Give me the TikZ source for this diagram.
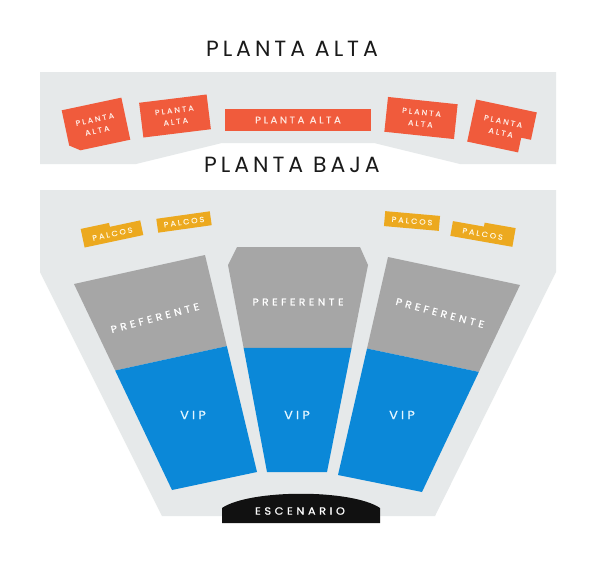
\documentclass[tikz,border=0pt]{standalone}
\usepackage{fontspec}
\usepackage{tikz}
\usetikzlibrary{calc,positioning}
\newfontfamily\titlefont{Poppins}[LetterSpace=18]
\newfontfamily\seatfont{Poppins}[LetterSpace=26,FakeStretch=1.08,FakeBold=0.6]
\newfontfamily\zonafont{Poppins}[LetterSpace=34,FakeStretch=1.08,FakeBold=0.6]
\definecolor{salabg}{HTML}{E6E9EA}
\definecolor{tituloc}{HTML}{1A1A1A}
\definecolor{altac}{HTML}{F05B3C}
\definecolor{altatxt}{HTML}{FFE6DE}
\definecolor{palcoc}{HTML}{ECA91F}
\definecolor{palcotxt}{HTML}{FFF4DA}
\definecolor{grisc}{HTML}{A6A6A6}
\definecolor{vipc}{HTML}{0B88D8}
\definecolor{viptxt}{HTML}{E2F5FF}
\definecolor{escc}{HTML}{111111}
\tikzset{
    %Define style for floor titles
    titulo/.style={
           text=tituloc,
           inner sep=0pt,
           font=\titlefont\fontsize{22}{24}\selectfont},
    %Define style for upper floor labels
    altalbl/.style={
           text=altatxt,
           align=center,
           inner sep=0pt, outer sep=0pt,
           transform shape,
           font=\seatfont\fontsize{7.5}{11.5}\selectfont},
    alta/.style={
           altalbl,
           rectangle,
           fill=altac},
    %Define style for boxes
    palcolbl/.style={
           text=palcotxt,
           inner sep=0pt, outer sep=0pt,
           transform shape,
           font=\seatfont\fontsize{7.5}{9}\selectfont},
    palco/.style={
           palcolbl,
           rectangle,
           fill=palcoc},
    %Define style for seat zone labels
    zona/.style={
           text=white,
           inner sep=0pt,
           font=\zonafont\fontsize{10}{12}\selectfont},
    vip/.style={
           text=viptxt,
           inner sep=0pt,
           font=\seatfont\fontsize{12}{14}\selectfont}
}
\begin{document}
\begin{tikzpicture}[x=1pt,y=-1pt]
\useasboundingbox (0,0) rectangle (600,562);
\fill[white] (0,0) rectangle (600,562);
 %floors
\fill[salabg] (40,72) -- (556,72) -- (556,164) -- (460,164) -- (374,143) -- (222,143) -- (136,164) -- (40,164) -- cycle;
\fill[salabg] (40,190) -- (556,190) -- (556,272) -- (435,516) -- (162,516) -- (40,272) -- cycle;

 %titles
\node[titulo] (alta) at (292,48.5) {PLANTA ALTA};
\node[titulo] (baja) at (292,165) {PLANTA BAJA};

 %upper floor
\begin{scope}[shift={(96,125)}, rotate=12]
\fill[altac] (-30.5,-21.5) -- (30.5,-21.5) -- (30.5,21.5) -- (-20.5,21.5) -- (-30.5,14.5) -- cycle;
\node[altalbl] (alta1) at (0,0) {PLANTA\\ALTA};
\end{scope}
\node[alta, minimum width=68pt, minimum height=35pt, rotate=7] (alta2) at (175,116) {PLANTA\\ALTA};
\node[alta, minimum width=146pt, minimum height=22pt, font=\seatfont\fontsize{9.5}{11}\selectfont] (alta3) at (298,120) {PLANTA ALTA};
\node[alta, minimum width=70pt, minimum height=35pt, rotate=-6] (alta4) at (421,118) {PLANTA\\ALTA};
\begin{scope}[shift={(502,127)}, rotate=-12]
\fill[altac] (-31,-21.5) -- (31,-21.5) -- (31,6.5) -- (21,6.5) -- (21,21.5) -- (-31,21.5) -- cycle;
\node[altalbl] (alta5) at (0,0) {PLANTA\\ALTA};
\end{scope}

 %palcos
\begin{scope}[shift={(112,232)}, rotate=12]
\fill[palcoc] (-30,-9.5) -- (-1,-9.5) -- (-1,-5.5) -- (30,-5.5) -- (30,9.5) -- (-30,9.5) -- cycle;
\node[palcolbl] (palco1) at (0,2) {PALCOS};
\end{scope}
\node[palco, minimum width=54pt, minimum height=14pt, rotate=8] (palco2) at (184,222) {PALCOS};
\node[palco, minimum width=55pt, minimum height=15pt, rotate=-5] (palco3) at (412,221) {PALCOS};
\begin{scope}[shift={(483,232)}, rotate=-10]
\fill[palcoc] (-31.5,-5.5) -- (0,-5.5) -- (0,-9.5) -- (31.5,-9.5) -- (31.5,9.5) -- (-31.5,9.5) -- cycle;
\node[palcolbl] (palco4) at (0,2) {PALCOS};
\end{scope}

 %left zone
\coordinate (la) at (74,284);
\coordinate (lb) at (205,255);
\coordinate (lc) at (257,472);
\coordinate (ld) at (172,490);
\fill[grisc] (la) -- (lb) -- ($(lb)!0.42!(lc)$) -- ($(la)!0.42!(ld)$) -- cycle;
\fill[vipc] ($(la)!0.42!(ld)$) -- ($(lb)!0.42!(lc)$) -- (lc) -- (ld) -- cycle;

 %middle zone
\coordinate (ma) at (228,265);
\coordinate (mb) at (237,247);
\coordinate (mc) at (360,247);
\coordinate (md) at (368,265);
\coordinate (me) at (327,472);
\coordinate (mf) at (267,472);
\fill[grisc] (ma) -- (mb) -- (mc) -- (md) -- ($(md)!0.4!(me)$) -- ($(ma)!0.4!(mf)$) -- cycle;
\fill[vipc] ($(ma)!0.4!(mf)$) -- ($(md)!0.4!(me)$) -- (me) -- (mf) -- cycle;

 %right zone
\coordinate (ra) at (388,257);
\coordinate (rb) at (520,285);
\coordinate (rc) at (422,492);
\coordinate (rd) at (338,475);
\fill[grisc] (ra) -- (rb) -- ($(rb)!0.42!(rc)$) -- ($(ra)!0.42!(rd)$) -- cycle;
\fill[vipc] ($(ra)!0.42!(rd)$) -- ($(rb)!0.42!(rc)$) -- (rc) -- (rd) -- cycle;

 %labels
\node[zona, rotate=15] (pref1) at (155,318) {PREFERENTE};
\node[zona] (pref2) at (298,302) {PREFERENTE};
\node[zona, rotate=-15] (pref3) at (440,313) {PREFERENTE};
\node[vip] (vip1) at (193,415) {VIP};
\node[vip] (vip2) at (297,415) {VIP};
\node[vip] (vip3) at (402,415) {VIP};

 %stage
\fill[escc] (222,523) -- (222,508) .. controls (250,489) and (352,489) .. (380,508) -- (380,523) -- cycle;
\node[zona, font=\zonafont\fontsize{10.5}{12}\selectfont] (esc) at (300,511) {ESCENARIO};
\end{tikzpicture}
\end{document}
